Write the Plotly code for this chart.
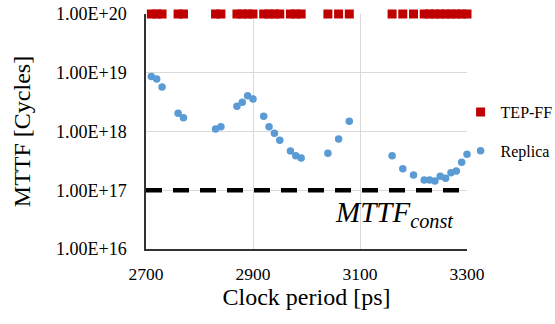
import plotly.graph_objects as go

# ---- data ----
clock_period = [2710, 2720, 2730, 2760, 2770, 2830, 2840, 2870, 2880, 2890, 2900,
                2920, 2930, 2940, 2950, 2970, 2980, 2990, 3040, 3060, 3080,
                3160, 3180, 3200, 3220, 3230, 3240, 3250, 3260, 3270, 3280, 3290, 3300]
tep_ff = [1e20] * len(clock_period)
replica = [8.6e18, 7.8e18, 5.7e18, 2.04e18, 1.72e18, 1.10e18, 1.21e18, 2.69e18, 3.14e18,
           4.07e18, 3.57e18, 1.82e18, 1.21e18, 9.3e17, 7.1e17, 4.66e17, 3.87e17, 3.54e17,
           4.26e17, 7.45e17, 1.49e18, 3.87e17, 2.33e17, 1.82e17, 1.49e17, 1.49e17, 1.44e17,
           1.73e17, 1.60e17, 1.99e17, 2.13e17, 2.99e17, 4.09e17]
const_x = [2700, 3300]
const_y = [1e17, 1e17]
y_tickvals = [1e16, 1e17, 1e18, 1e19, 1e20]
y_ticktext = ["1.00E+16", "1.00E+17", "1.00E+18", "1.00E+19", "1.00E+20"]
x_tickvals = [2700, 2900, 3100, 3300]

FONT = "Liberation Serif"

fig = go.Figure()
fig.add_trace(go.Scatter(
    x=const_x, y=const_y, mode="lines", showlegend=False, hoverinfo="skip",
    line=dict(color="black", width=4.5, dash="16px,11px"), cliponaxis=False))
fig.add_trace(go.Scatter(
    x=clock_period, y=tep_ff, mode="markers", name="TEP-FF", legendgroup="a",
    marker=dict(symbol="square", size=9, color="#C00000"), cliponaxis=False))
fig.add_trace(go.Scatter(
    x=clock_period, y=replica, mode="markers", name="Replica", legendgroup="b",
    marker=dict(symbol="circle", size=7.5, color="#5B9BD5"), cliponaxis=False))

fig.add_annotation(
    x=3165, y=16.6, xref="x", yref="y", showarrow=False,
    text="<i>MTTF</i><sub><i>const</i></sub>",
    font=dict(family=FONT, size=29, color="black"))

fig.update_layout(
    width=555, height=324,
    margin=dict(l=146, r=88, t=14, b=75, autoexpand=False),
    paper_bgcolor="white", plot_bgcolor="white",
    font=dict(family=FONT, size=18, color="black"),
    legend=dict(x=0.98, xanchor="left", y=0.5, yanchor="middle",
                font=dict(family=FONT, size=16, color="black"), tracegroupgap=15,
                bgcolor="rgba(0,0,0,0)", itemwidth=30),
    showlegend=True,
)
fig.update_xaxes(
    range=[2700, 3300], tickvals=x_tickvals, ticks="", showgrid=True,
    gridcolor="#D9D9D9", gridwidth=1.2, showline=True, linecolor="#333333", linewidth=1.5,
    zeroline=False, tickfont=dict(family=FONT, size=17.5, color="black"), ticklabelstandoff=8,
    automargin=False,
    title=dict(text="Clock period [ps]", font=dict(family=FONT, size=24), standoff=5))
fig.update_yaxes(
    type="log", range=[16, 20], tickvals=y_tickvals, ticktext=y_ticktext, ticks="",
    showgrid=True, gridcolor="#D9D9D9", gridwidth=1.2, showline=True,
    linecolor="#333333", linewidth=1.5, zeroline=False, automargin=False,
    tickfont=dict(family=FONT, size=18, color="black"), ticklabelstandoff=14,
    title=dict(text="MTTF [Cycles]", font=dict(family=FONT, size=24), standoff=19))

fig.write_html("out.html", config={"displayModeBar": False},
               post_script="document.body.style.margin='0';")
